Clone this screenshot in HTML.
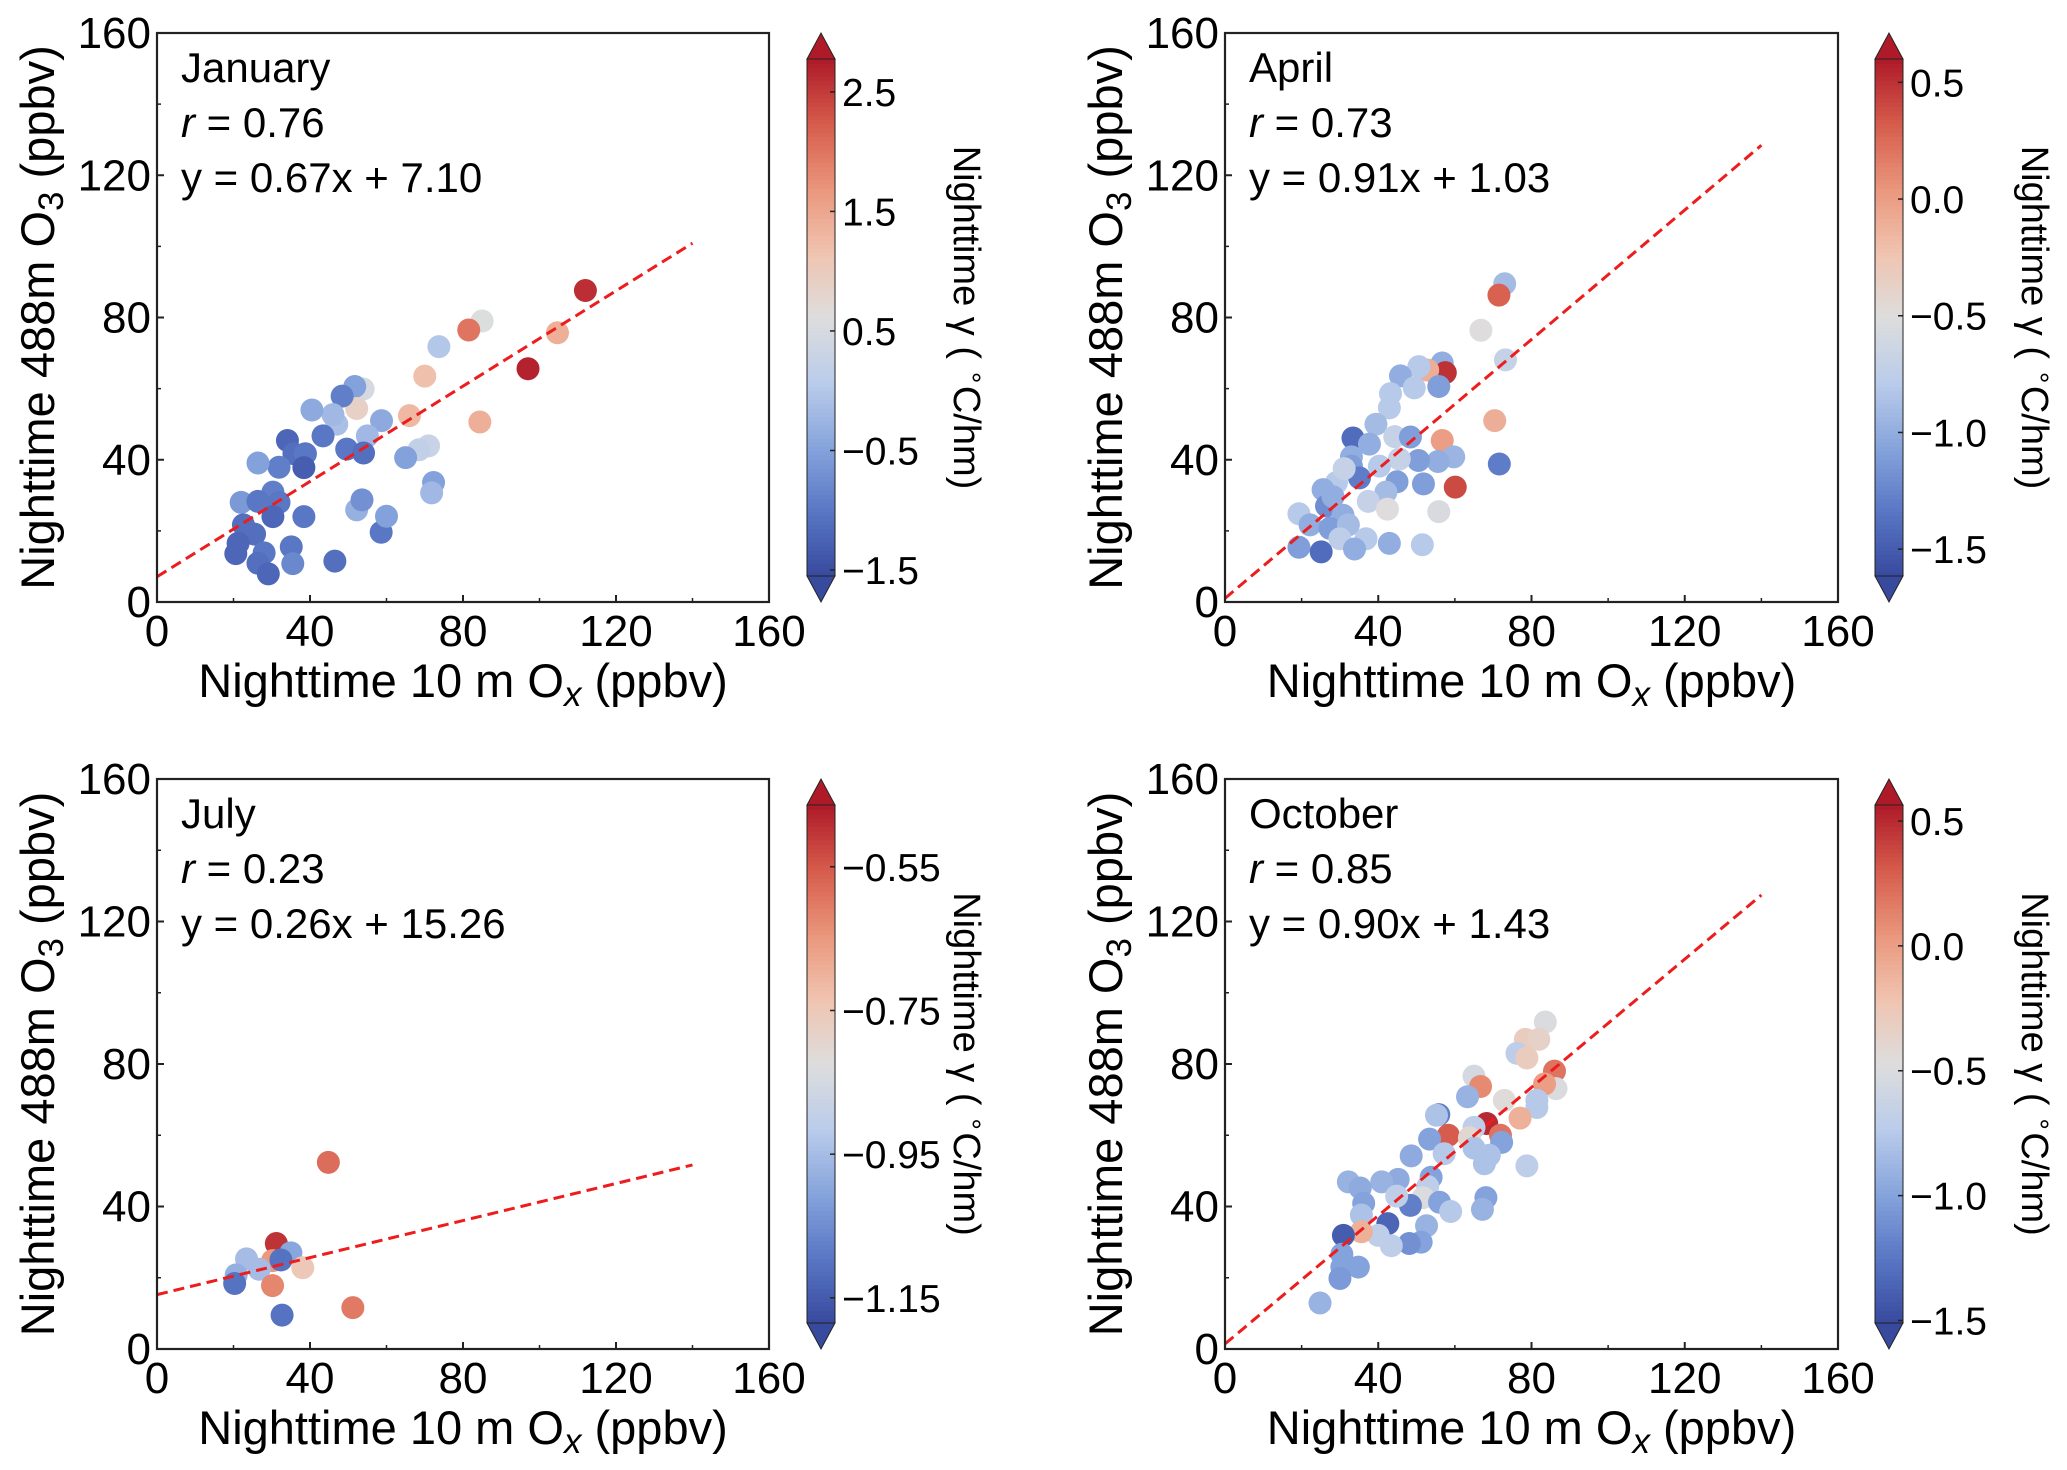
<!DOCTYPE html>
<html><head><meta charset="utf-8"><style>
html,body{margin:0;padding:0;background:#fff}
svg{display:block}
text{font-family:"Liberation Sans",Arial,sans-serif;fill:#000}
</style></head><body>
<svg id="fig" width="2067" height="1470" viewBox="0 0 2067 1470" xmlns="http://www.w3.org/2000/svg"></svg>
<script>
// ---- data ----
const janX=[112,85,81.5,104.7,97,73.7,70,66,84.4,71,68.5,65,72.3,71.8,58.7,53.9,51.7,52.2,48.4,47,46,55,49.6,54,43.4,40.5,34.1,35.8,38.8,38.4,31.9,26.4,22,30.3,26.4,31.9,30.3,22.6,25.5,21.2,20.6,28,26.4,29.1,35.1,35.5,38.4,46.5,52.2,53.6,58.6,60];
const janY=[87.6,79,76.5,75.7,65.6,71.8,63.5,52.4,50.6,43.9,42.8,40.6,33.6,30.7,51,59.9,60.6,54.4,57.9,50,52.7,46.7,43,41.9,46.7,54,45.4,41.7,41.7,37.8,37.9,39.1,28,30.9,28.3,28,24,21.7,19.1,16.5,13.6,13.8,10.9,7.9,15.5,10.8,24,11.5,25.9,28.7,19.6,24.1];
const janC=[2.6,0.6,2.0,1.4,2.7,0.0,1.2,1.3,1.4,0.3,0.2,-0.5,-0.5,-0.2,-0.4,0.5,-0.5,0.9,-0.9,-0.1,-0.2,-0.2,-1.0,-1.1,-1.0,-0.4,-1.2,-1.1,-1.0,-1.3,-0.9,-0.5,-0.6,-0.9,-1.0,-1.0,-1.2,-1.1,-1.1,-1.2,-1.2,-1.0,-1.1,-1.2,-1.0,-0.8,-1.0,-1.1,-0.3,-0.7,-1.0,-0.5];
const aprX=[73,71.5,66.8,73.2,56.7,57.5,52.9,50.6,45.8,55.8,49.4,43.2,42.9,70.4,39.4,44.3,48.4,56.7,33.4,37.7,59.7,71.6,60.1,55.6,50.5,45.5,40.3,33,33,35.1,44.9,51.8,42,37.4,42.4,55.8,29.1,25.6,26.5,30.8,19.3,22.2,27.4,32.2,36.8,30,19.3,25.1,33.8,42.9,51.5,31.1,28.2];
const aprY=[89.5,86.3,76.4,68.1,67.2,64.5,65.2,66.2,63.6,60.6,60.2,58.6,54.6,51,50,46.5,46.4,45.4,46.1,44.4,40.8,38.8,32.3,39.5,39.8,40.2,38.2,40.8,38.2,34.9,33.8,33.2,30.9,28.3,26.1,25.4,33.6,31.6,27,24.4,24.8,21.7,20.7,21.7,17.8,17.8,15.4,14.1,14.9,16.5,16.1,37.5,29.6];
const aprC=[-0.9,0.3,-0.5,-0.7,-1.0,0.5,-0.1,-0.8,-1.0,-1.1,-0.8,-0.8,-0.8,-0.1,-0.9,-0.7,-1.1,0.0,-1.4,-1.0,-0.95,-1.3,0.4,-1.0,-1.1,-0.7,-0.8,-1.0,-1.1,-1.3,-1.1,-1.1,-0.9,-0.7,-0.5,-0.55,-0.8,-1.0,-1.2,-1.0,-0.8,-1.0,-1.1,-0.9,-0.8,-0.75,-1.1,-1.4,-1.0,-1.0,-0.8,-0.7,-1.0];
const julX=[44.8,31.2,35,23.4,30.2,26.7,38.1,20.7,20.3,30.2,32.7,51.2,32.4];
const julY=[52.4,29.6,27,25.3,24.8,22.4,22.8,20.8,18.4,17.8,9.5,11.6,25];
const julC=[-0.58,-0.5,-1.0,-0.95,-0.65,-0.95,-0.75,-0.98,-1.1,-0.62,-1.1,-0.6,-1.1];
const octX=[83.6,78.4,81.9,76.2,78.8,86,86.4,83.4,65,66.7,63.3,72.9,81.4,81.4,77,55.8,55.2,68.3,65,71.9,58.3,53.4,63.8,72.2,65,69,67.7,78.8,57.2,48.6,53.8,52.9,45.2,40.9,32.2,35.3,36.2,51.7,56,48.4,44.8,58.9,68.1,67.2,35.6,42.5,52.6,40,35.6,30.9,51.2,48.1,43.4,30.5,34.8,30.5,30,24.8];
const octY=[91.8,86.9,86.9,83,81.7,78,73.1,74.4,76.6,73.7,70.8,69.8,69.8,67.8,64.8,65.8,65.6,63.3,62.2,60,60,58.9,59.3,58,56.4,54.4,52,51.4,54.8,54.2,48.2,45.6,47.6,46.9,46.9,45.2,40.9,42.5,41.2,40.3,42.9,38.6,42.5,39.2,37.6,35.2,34.6,31.9,32.9,31.9,30,29.6,29,26.6,23,23,19.8,12.9];
const octC=[-0.5,-0.3,-0.35,-0.7,-0.3,0.2,-0.5,0.0,-0.55,0.1,-0.9,-0.45,-0.75,-0.75,-0.1,-1.2,-0.8,0.5,-0.7,0.2,0.3,-1.0,-0.4,-1.0,-0.8,-0.8,-0.8,-0.7,-0.75,-0.95,-1.0,-0.7,-0.95,-0.9,-0.9,-0.95,-1.0,-0.5,-1.0,-1.2,-0.7,-0.75,-1.0,-0.9,-0.8,-1.35,-0.9,-0.7,-0.1,-1.4,-1.0,-1.1,-0.7,-1.0,-1.0,-1.0,-1.05,-0.9];
const axisTicks=[0,40,80,120,160];
const minorTicks=[20,60,100,140];
const janCbTicks=[-1.5,-0.5,0.5,1.5,2.5];
const aprCbTicks=[-1.5,-1.0,-0.5,0.0,0.5];
const julCbTicks=[-1.15,-0.95,-0.75,-0.55];
const octCbTicks=[-1.5,-1.0,-0.5,0.0,0.5];
const janFit=[0.67,7.10], aprFit=[0.91,1.03], julFit=[0.26,15.26], octFit=[0.90,1.43];

// ---- drawing ----
const NS='http://www.w3.org/2000/svg';
const svg=document.getElementById('fig');
function mk(tag,attrs,parent){const e=document.createElementNS(NS,tag);for(const k in attrs)e.setAttribute(k,attrs[k]);(parent||svg).appendChild(e);return e;}
const stops=[[56,74,158],[88,118,196],[134,164,220],[186,204,234],[221,221,221],[240,196,176],[234,150,124],[214,92,76],[174,26,40]];
function cmap(t){t=Math.max(0,Math.min(1,t));const p=t*8,i=Math.min(7,Math.floor(p)),f=p-i;const a=stops[i],b=stops[i+1];
 return 'rgb('+a.map((v,k)=>Math.round(v+(b[k]-v)*f)).join(',')+')';}

const panels=[
 {name:'january',title:'January',r:'0.76',fit:janFit,xs:janX,ys:janY,cs:janC,ticks:janCbTicks,vmin:-1.55,vmax:2.775,x0:157,x1:769,y0:33,y1:602,cb:807,dec:1},
 {name:'april',title:'April',r:'0.73',fit:aprFit,xs:aprX,ys:aprY,cs:aprC,ticks:aprCbTicks,vmin:-1.615,vmax:0.6,x0:1225,x1:1838,y0:33,y1:602,cb:1875,dec:1},
 {name:'july',title:'July',r:'0.23',fit:julFit,xs:julX,ys:julY,cs:julC,ticks:julCbTicks,vmin:-1.185,vmax:-0.464,x0:157,x1:769,y0:779,y1:1349,cb:807,dec:2},
 {name:'october',title:'October',r:'0.85',fit:octFit,xs:octX,ys:octY,cs:octC,ticks:octCbTicks,vmin:-1.51,vmax:0.564,x0:1225,x1:1838,y0:779,y1:1349,cb:1875,dec:1}
];

panels.forEach(P=>{
 const g=mk('g',{});
 
 
 const sx=v=>P.x0+(v/160)*(P.x1-P.x0);
 const sy=v=>P.y1-(v/160)*(P.y1-P.y0);
 const pg=mk('g',{},g);
 
 
 P.xs.forEach((x,i)=>{
  const c=mk('circle',{cx:sx(x),cy:sy(P.ys[i]),r:11.5,fill:cmap((P.cs[i]-P.vmin)/(P.vmax-P.vmin))},pg);
  
  
 });
 const ln=mk('line',{x1:sx(0),y1:sy(P.fit[1]),x2:sx(140),y2:sy(P.fit[0]*140+P.fit[1]),stroke:'#ee1d1d','stroke-width':3,'stroke-dasharray':'11,6'},g);
 
 
 const fr=mk('rect',{x:P.x0,y:P.y0,width:P.x1-P.x0,height:P.y1-P.y0,fill:'none',stroke:'#222','stroke-width':2.2},g);
 
 
 axisTicks.forEach(v=>{
  mk('line',{x1:sx(v),y1:P.y1,x2:sx(v),y2:P.y1-7,stroke:'#222','stroke-width':2},g);
  mk('line',{x1:P.x0,y1:sy(v),x2:P.x0+7,y2:sy(v),stroke:'#222','stroke-width':2},g);
  const xt=mk('text',{x:sx(v),y:P.y1+44,'font-size':44,'text-anchor':'middle'},g);xt.textContent=v;
  
  
  const yt=mk('text',{x:P.x0-6,y:sy(v)+15,'font-size':44,'text-anchor':'end'},g);yt.textContent=v;
  
  
 });
 minorTicks.forEach(v=>{
  mk('line',{x1:sx(v),y1:P.y1,x2:sx(v),y2:P.y1-4,stroke:'#222','stroke-width':1.5},g);
  mk('line',{x1:P.x0,y1:sy(v),x2:P.x0+4,y2:sy(v),stroke:'#222','stroke-width':1.5},g);
 });
 const t1=mk('text',{x:P.x0+24,y:P.y0+49,'font-size':42},g);t1.textContent=P.title;
 
 
 const t2=mk('text',{x:P.x0+24,y:P.y0+104,'font-size':42},g);
 t2.innerHTML='<tspan font-style="italic">r</tspan> = '+P.r;
 
 
 const t3=mk('text',{x:P.x0+24,y:P.y0+159,'font-size':42},g);
 t3.textContent='y = '+P.fit[0].toFixed(2)+'x + '+P.fit[1].toFixed(2);
 
 
 const xl=mk('text',{x:(P.x0+P.x1)/2,y:P.y1+95,'font-size':47,'text-anchor':'middle'},g);
 xl.innerHTML='Nighttime 10 m O<tspan font-size="35" font-style="italic" dy="9">x</tspan><tspan dy="-9"> (ppbv)</tspan>';
 
 
 const yc=(P.y0+P.y1)/2, yx=P.x0-103;
 const yl=mk('text',{x:yx,y:yc,'font-size':47,'text-anchor':'middle',transform:'rotate(-90 '+yx+' '+yc+')'},g);
 yl.innerHTML='Nighttime 488m O<tspan font-size="35" dy="9">3</tspan><tspan dy="-9"> (ppbv)</tspan>';
 
 
 const cg=mk('g',{},g);
 
 
 const cx0=P.cb,cw=28,ct=P.y0+26,cbot=P.y1-26,N=120;
 for(let k=0;k<N;k++){
  const h=(cbot-ct)/N;
  mk('rect',{x:cx0,y:cbot-(k+1)*h,width:cw,height:h+0.6,fill:cmap((k+0.5)/N)},cg);
 }
 mk('polygon',{points:cx0+','+ct+' '+(cx0+cw)+','+ct+' '+(cx0+cw/2)+','+P.y0,fill:cmap(1),stroke:'#222','stroke-width':1},cg);
 mk('polygon',{points:cx0+','+cbot+' '+(cx0+cw)+','+cbot+' '+(cx0+cw/2)+','+P.y1,fill:cmap(0),stroke:'#222','stroke-width':1},cg);
 mk('rect',{x:cx0,y:ct,width:cw,height:cbot-ct,fill:'none',stroke:'#222','stroke-width':1},cg);
 const cy=v=>cbot-(v-P.vmin)/(P.vmax-P.vmin)*(cbot-ct);
 P.ticks.forEach(v=>{
  mk('line',{x1:cx0+cw-5,y1:cy(v),x2:cx0+cw,y2:cy(v),stroke:'#222','stroke-width':1.5},cg);
  const tl=mk('text',{x:cx0+cw+7,y:cy(v)+14,'font-size':39},cg);
  tl.textContent=(v<0?'\u2212':'')+Math.abs(v).toFixed(P.dec);
  
  
 });
 const lx=cx0+147, ly=(P.y0+P.y1)/2;
 const cl=mk('text',{x:lx,y:ly,'font-size':38,'text-anchor':'middle',transform:'rotate(90 '+lx+' '+ly+')'},g);
 cl.innerHTML='Nighttime \u03B3 ( <tspan font-size="26" dy="-14">\u2218</tspan><tspan dy="14">C/hm)</tspan>';
 
 
});
</script>
</body></html>
